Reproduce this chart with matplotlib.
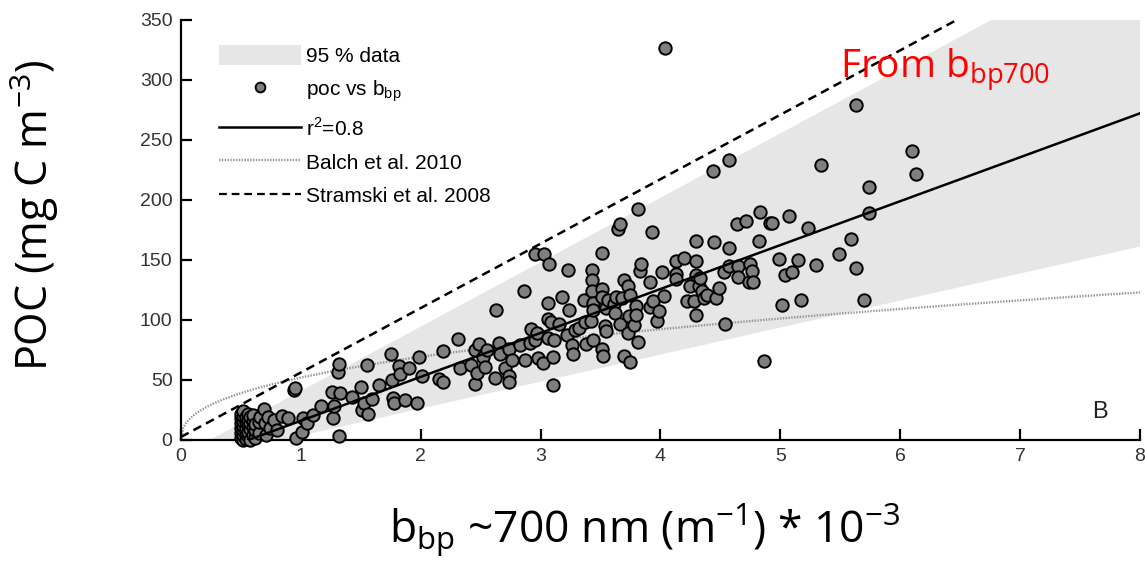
import numpy as np
import matplotlib
matplotlib.use("Agg")
import matplotlib.pyplot as plt
from matplotlib.patches import Patch
from matplotlib.lines import Line2D

# POC vs bbp(700) scatter
bbp = [
    # dense cluster near 0.5
    0.50, 0.50, 0.50, 0.50, 0.50, 0.50, 0.52, 0.52, 0.52, 0.52, 0.52, 0.52, 0.52,
    0.54, 0.54, 0.54, 0.54, 0.54, 0.56, 0.56, 0.56, 0.56, 0.56, 0.58, 0.58, 0.58, 0.58,
    0.60, 0.60, 0.60, 0.60, 0.62, 0.62, 0.62, 0.65, 0.65, 0.66,
    # 0.7 - 2
    0.69, 0.70, 0.71, 0.73, 0.74, 0.78, 0.80, 0.84, 0.89, 0.94, 0.95, 0.96, 1.01, 1.02,
    1.05, 1.10, 1.17, 1.27, 1.28, 1.26, 1.32, 1.31, 1.33, 1.32, 1.43, 1.50, 1.51, 1.53,
    1.55, 1.56, 1.59, 1.65, 1.75, 1.76, 1.77, 1.78, 1.82, 1.83, 1.87, 1.90, 1.97, 1.99,
    2.01,
    # 2 - 3.5
    2.15, 2.19, 2.19, 2.31, 2.33, 2.42, 2.45, 2.45, 2.47, 2.49, 2.52, 2.54, 2.55, 2.62,
    2.63, 2.65, 2.66, 2.70, 2.74, 2.74, 2.74, 2.76, 2.83, 2.86, 2.87, 2.91, 2.92, 2.95,
    2.95, 2.97, 2.98, 3.02, 3.03, 3.06, 3.06, 3.06, 3.07, 3.09, 3.10, 3.10, 3.11, 3.15,
    3.18, 3.22, 3.23, 3.24, 3.26, 3.27, 3.29, 3.32, 3.36, 3.37, 3.38, 3.42, 3.43, 3.43,
    3.43, 3.44, 3.44, 3.44,
    # 3.5 - 4.1
    3.51, 3.51, 3.51, 3.51, 3.52, 3.54, 3.55, 3.55, 3.56, 3.61, 3.62, 3.63, 3.65, 3.66,
    3.66, 3.68, 3.70, 3.70, 3.73, 3.73, 3.74, 3.75, 3.75, 3.78, 3.80, 3.80, 3.81, 3.81,
    3.83, 3.84, 3.91, 3.91, 3.93, 3.94, 3.97, 3.99, 4.01, 4.03, 4.04,
    # 4.1 - 5
    4.13, 4.13, 4.13, 4.20, 4.22, 4.25, 4.28, 4.30, 4.30, 4.30, 4.30, 4.32, 4.33, 4.35,
    4.36, 4.39, 4.44, 4.45, 4.46, 4.49, 4.53, 4.54, 4.57, 4.57, 4.57, 4.64, 4.65, 4.65,
    4.71, 4.74, 4.75, 4.76, 4.77, 4.82, 4.83, 4.86, 4.91, 4.93, 4.99,
    # > 5
    5.01, 5.04, 5.07, 5.10, 5.15, 5.17, 5.23, 5.30, 5.34, 5.49, 5.59, 5.63, 5.63, 5.70,
    5.74, 5.74, 6.10, 6.13,
]
poc = [
    2, 6, 10, 14, 18, 22, 0, 4, 8, 12, 16, 20, 24,
    1, 5, 10, 15, 19, 3, 7, 13, 17, 22, 0, 9, 14, 19,
    4, 11, 16, 21, 2, 8, 13, 6, 15, 19,
    26, 14, 4, 19, 10, 17, 8, 20, 18, 42, 43, 2, 7, 18,
    14.5, 21, 28, 18, 28, 40, 3, 57, 39, 63, 36, 44, 25, 31,
    62.5, 22, 34, 46, 72, 50, 35, 31, 62, 55, 33, 60, 31, 69,
    53,
    50.5, 74, 48, 84, 60, 62.5, 75, 47, 55.5, 80, 69, 61, 75, 52,
    108, 81, 72, 60, 75.5, 53, 48.5, 67, 79, 124, 67, 80.5, 92.5, 83,
    155, 89, 68, 64, 155, 114, 101, 85, 147, 98, 46, 69, 83, 97,
    119, 87.5, 142, 108, 79, 72, 92, 93, 117, 98.5, 80, 99.5, 142, 133,
    124, 114, 108, 83,
    156, 126, 119, 76, 70, 95, 91, 110, 117, 113, 106, 119, 175.5, 180,
    97, 118, 133, 70, 128, 89, 103, 121, 65, 96, 112, 104, 192.5, 82,
    141, 147, 132, 111, 173, 116, 99, 107.5, 140, 120, 327,
    149, 138, 134, 152, 116, 128, 116, 166, 149, 137.5, 104, 128, 135, 124,
    118, 121, 224, 165, 118, 127, 140, 97, 160, 145, 233, 180, 145, 136,
    182.5, 132, 147, 141, 132, 166, 190, 66, 181, 181, 150.5,
    112.5, 137.5, 187, 140, 150, 117, 177, 146, 229, 155, 167.5, 143, 279, 117,
    211, 189, 241, 222,
]

# reference curves
fit_slope, fit_icpt = 36.6, -20.6          # r2 = 0.8 regression
stramski_slope, stramski_icpt = 53.7, 2.5  # Stramski et al. 2008
balch_a, balch_b = 52.0, 0.414             # Balch et al. 2010 (power law)

# 95 % data envelope: (x, y) corners
band_x = [0.24, 6.76, 8.0, 8.0, 0.84]
band_y = [0, 350, 350, 161.2, 0]

plt.rcParams['font.family'] = ['Liberation Sans', 'DejaVu Sans']

fig = plt.figure(figsize=(11.45, 5.63), dpi=100)
ax = fig.add_axes([0.158, 0.2185, 0.8376, 0.746])

ax.fill(band_x, band_y, color='#e6e6e6', lw=0, zorder=1)

xb = np.linspace(0, 8, 400)
ax.plot(xb, balch_a * xb ** balch_b, color='#949494', lw=1.7,
        linestyle=(0, (0.6, 0.6)), zorder=2)

ax.scatter(bbp, poc, s=80, facecolor='#7f7f7f', edgecolor='black',
           linewidths=1.4, zorder=3, clip_on=False)

xf = np.array([0.56, 8.0])
ax.plot(xf, fit_slope * xf + fit_icpt, color='black', lw=1.8, zorder=4)

xs = np.array([0.0, 6.47])
ax.plot(xs, stramski_slope * xs + stramski_icpt, color='black', lw=1.8,
        linestyle=(0, (3.5, 2.2)), zorder=4)

ax.set_xlim(0, 8)
ax.set_ylim(0, 350)
ax.set_xticks(range(0, 9))
ax.set_yticks(range(0, 351, 50))
for s in ['top', 'right']:
    ax.spines[s].set_visible(False)
for s in ['left', 'bottom']:
    ax.spines[s].set_linewidth(1.6)
ax.tick_params(direction='in', length=8, width=1.6, labelsize=14,
               labelcolor='#333333', pad=6)

ax.text(7.6, 18, 'B', fontsize=17, color='#222222')

handles = [
    Patch(facecolor='#e6e6e6', edgecolor='none'),
    Line2D([], [], ls='none', marker='o', ms=7, mfc='#7f7f7f', mec='black', mew=1.4),
    Line2D([], [], color='black', lw=1.8),
    Line2D([], [], color='#949494', lw=1.7, ls=(0, (0.6, 0.6))),
    Line2D([], [], color='black', lw=1.6, ls=(0, (3.5, 2.2))),
]
labels = ['95 % data', r'poc vs b$_\mathregular{bp}$', r'r$^\mathregular{2}$=0.8',
          'Balch et al. 2010', 'Stramski et al. 2008']
ax.legend(handles, labels, loc='upper left', bbox_to_anchor=(0.04, 0.94),
          frameon=False, fontsize=15, handlelength=3.9, handleheight=1.06,
          handletextpad=0.25, labelspacing=0.6, borderpad=0, borderaxespad=0)

big = ['Open Sans', 'DejaVu Sans']
fig.text(0.7336, 0.8615, r'From b$_\mathregular{bp700}$', color='red', fontsize=28,
         family=big)
fig.text(0.03, 0.618, r'POC (mg C m$^\mathregular{-3}$)', rotation=90, fontsize=31,
         family=big, ha='center', va='center')
fig.text(0.563, 0.038, r'b$_\mathregular{bp}$ ~700 nm (m$^\mathregular{-1}$) * 10$^\mathregular{-3}$',
         fontsize=32, family=big, ha='center', va='baseline')

fig.savefig('out.png', dpi=100)
